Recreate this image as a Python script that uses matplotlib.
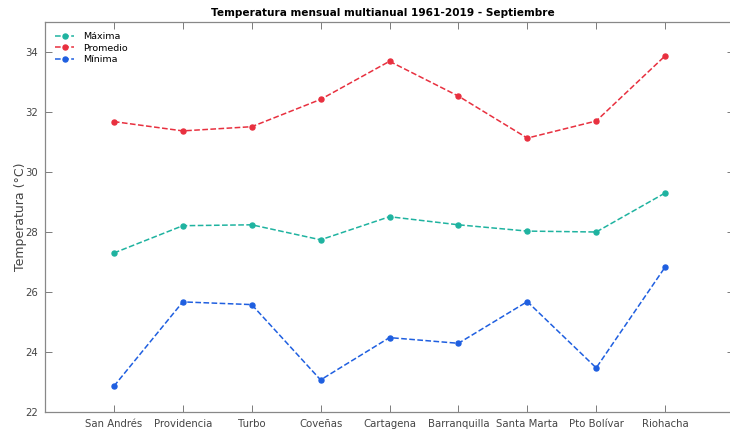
import matplotlib
matplotlib.use("Agg")
import matplotlib.pyplot as plt

plt.rcParams['font.family'] = ['DejaVu Sans']

estaciones = ["San Andrés", "Providencia", "Turbo", "Coveñas", "Cartagena",
              "Barranquilla", "Santa Marta", "Pto Bolívar", "Riohacha"]
maxima = [27.30, 28.21, 28.24, 27.74, 28.51, 28.24, 28.03, 28.00, 29.30]
promedio = [31.68, 31.37, 31.51, 32.42, 33.69, 32.53, 31.13, 31.70, 33.87]
minima = [22.86, 25.67, 25.58, 23.07, 24.48, 24.29, 25.68, 23.47, 26.83]
yticks = [22, 24, 26, 28, 30, 32, 34]

fig = plt.figure(figsize=(7.3, 4.32), dpi=100)
ax = fig.add_axes([45/730, 1-412/432, 689/730, 390/432])

x = list(range(1, len(estaciones) + 1))
ax.plot(x, maxima, '--', color='#1fb3a0', marker='o', markersize=3.6, lw=1.1, label='Máxima')
ax.plot(x, promedio, '--', color='#e8303f', marker='o', markersize=3.6, lw=1.1, label='Promedio')
ax.plot(x, minima, '--', color='#1f5fe0', marker='o', markersize=3.6, lw=1.1, label='Mínima')

ax.set_xlim(0, 10)
ax.set_ylim(22, 35)
ax.set_xticks(x)
ax.set_xticklabels(estaciones, fontsize=7.3)
ax.set_yticks(yticks)
ax.set_yticklabels([str(v) for v in yticks], fontsize=7.3)
ax.tick_params(direction='in', top=True, right=True, length=5, width=0.6,
               colors='#666666', labelcolor='#444444', pad=5)
for s in ax.spines.values():
    s.set_color('#888888')
    s.set_linewidth(0.9)
ax.set_ylabel('Temperatura (°C)', fontsize=9.0, color='#444444', labelpad=-1)
ax.set_title('Temperatura mensual multianual 1961-2019 - Septiembre',
             fontsize=7.6, fontweight='bold', pad=4, x=0.49)
leg = ax.legend(loc='upper left', frameon=False, fontsize=6.8, handlelength=2.0,
                handletextpad=0.9, labelspacing=0.25, borderaxespad=0.6,
                borderpad=0.5)

fig.savefig('out.png', dpi=100)
